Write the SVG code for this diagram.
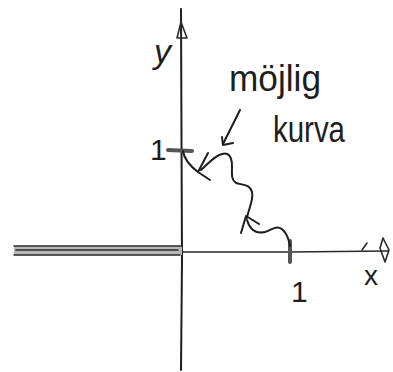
<svg xmlns="http://www.w3.org/2000/svg" width="393" height="372" viewBox="0 0 393 372">
<style>
.ln{fill:none;stroke:#1e1e1e;stroke-width:2;stroke-linecap:round;stroke-linejoin:round}
.th{fill:none;stroke:#2a2a2a;stroke-width:1.6;stroke-linecap:round;stroke-linejoin:round}
.tx{font-family:"Liberation Sans","DejaVu Sans",sans-serif;fill:#1e1e1e}
</style>
<rect width="393" height="372" fill="#fff"/>
<g id="axes">
  <path class="ln" d="M181,9 L181.5,140 L182,260 L181,370"/>
  <path class="th" d="M177,38 L181,22 L187,38 Z"/>
  <path class="th" d="M182,252 L290,252 L388,251"/>
  <path class="th" d="M383,238 L389,250 L385,262 M383,238 L380,248 L385,262"/>
  <path class="th" d="M367,243 L362,250" stroke-width="1"/>
</g>
<g id="negative-axis">
  <rect x="14" y="246" width="168" height="9" fill="#b8b8b8"/>
  <path class="th" d="M14,246 L182,246 M14,255 L180,255 M16,250 L178,250"/>
</g>
<g id="ticks">
  <path d="M168,150 L192,151" stroke="#555" stroke-width="4" fill="none" stroke-linecap="round"/>
  <path d="M290,241 L290,262" stroke="#555" stroke-width="4" fill="none" stroke-linecap="round"/>
</g>
<g id="labels">
  <text class="tx" x="154" y="63" font-size="34" font-style="italic">y</text>
  <text class="tx" x="150" y="160" font-size="30">1</text>
  <text class="tx" x="291" y="302" font-size="30">1</text>
  <text class="tx" x="364" y="285" font-size="28">x</text>
  <text class="tx" x="229" y="91" font-size="36" textLength="92" lengthAdjust="spacingAndGlyphs">möjlig</text>
  <text class="tx" x="273" y="142" font-size="36" textLength="72" lengthAdjust="spacingAndGlyphs">kurva</text>
</g>
<g id="curve">
  <path class="ln" d="M183,151 C184,158 190,166 198,172"/>
  <path class="ln" d="M208,153 L198,172 L210,180"/>
  <path class="ln" d="M201,170 C208,164 214,156 222,154 C228,152 232,156 232,166 C232,174 231,180 236,183 C242,185 250,184 252,192 C254,200 248,210 247,218"/>
  <path class="ln" d="M241,233 L246,216 L259,224"/>
  <path class="ln" d="M247,220 C250,230 256,234 265,232 C272,230 277,224 283,230 C287,234 289,240 290,246"/>
  <path class="ln" d="M240,110 L223,144"/>
  <path class="ln" d="M222,137 L223,145 L233,143"/>
</g>
</svg>
